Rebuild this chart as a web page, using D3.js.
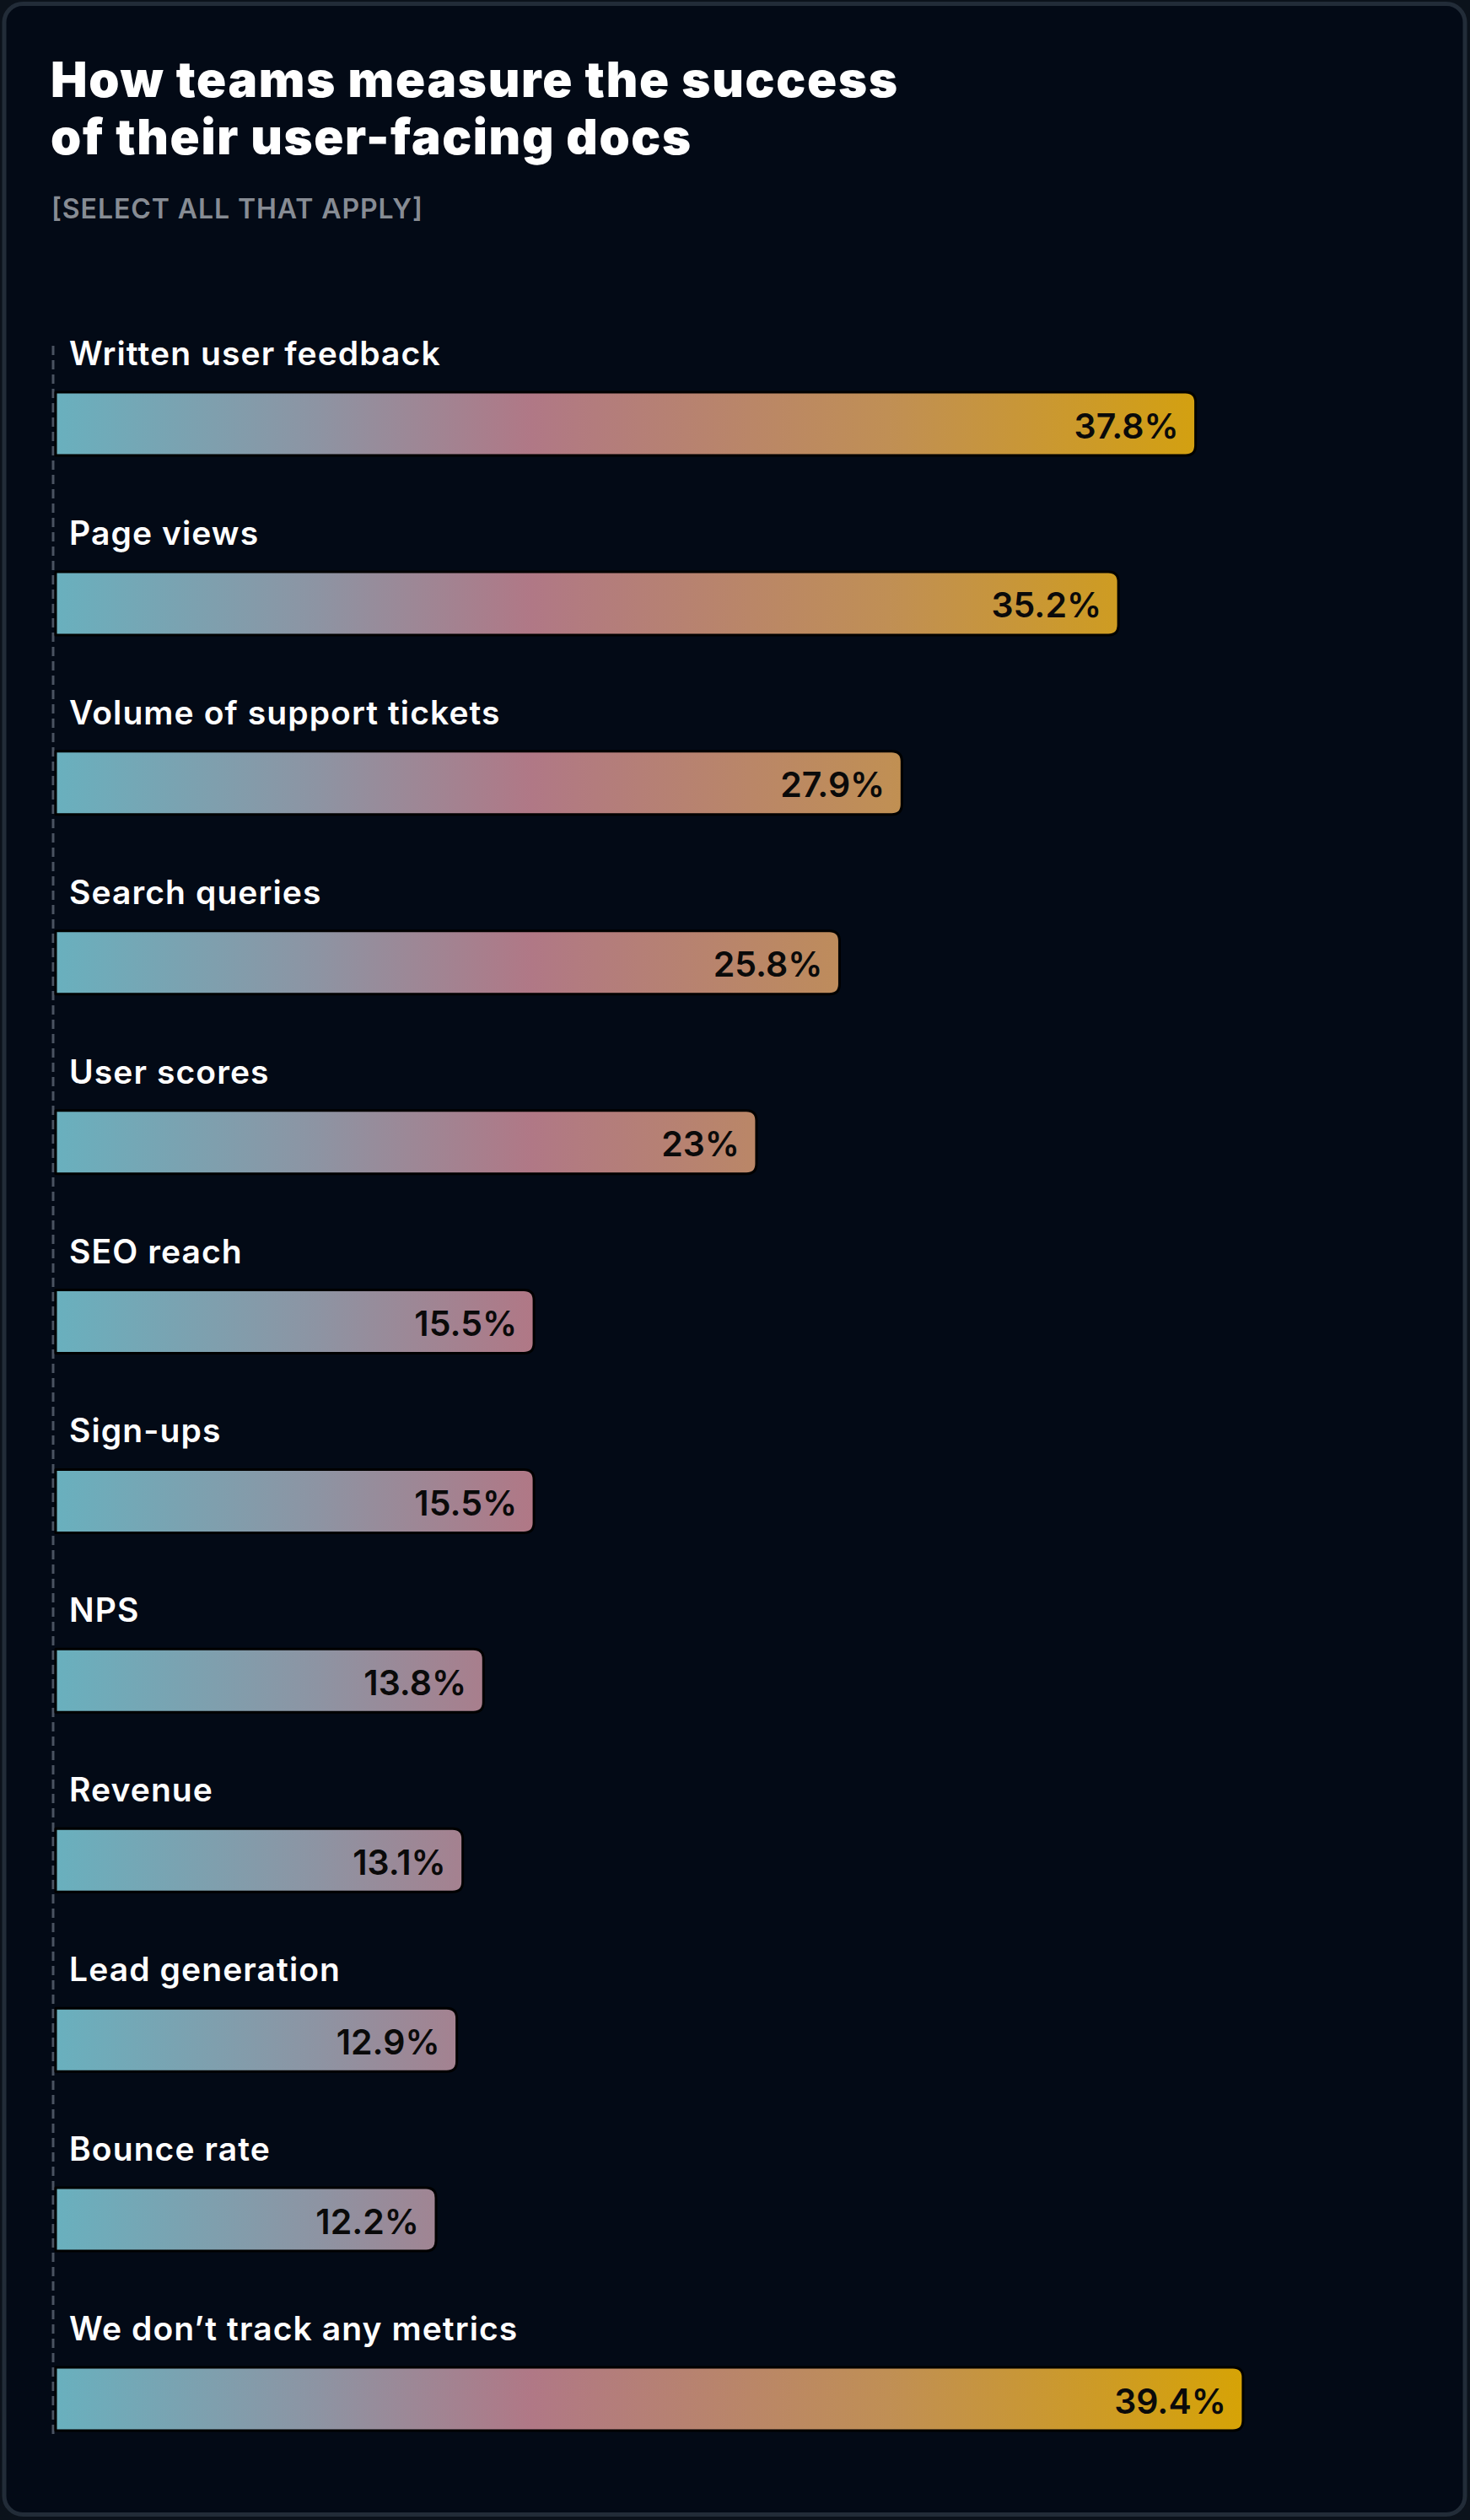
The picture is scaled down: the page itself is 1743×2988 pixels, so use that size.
<!DOCTYPE html>
<html>
<head>
<meta charset="utf-8">
<script src="https://cdn.jsdelivr.net/npm/d3@7"></script>
<style>
  html, body { margin: 0; padding: 0; background: #0b121b; }
  svg { display: block; }
</style>
</head>
<body>
<div id="chart"></div>
<script>
const titleLines = ["How teams measure the success", "of their user-facing docs"];
const subtitle = "[SELECT ALL THAT APPLY]";
const categories = [
  "Written user feedback",
  "Page views",
  "Volume of support tickets",
  "Search queries",
  "User scores",
  "SEO reach",
  "Sign-ups",
  "NPS",
  "Revenue",
  "Lead generation",
  "Bounce rate",
  "We don’t track any metrics"
];
const values = [37.8, 35.2, 27.9, 25.8, 23, 15.5, 15.5, 13.8, 13.1, 12.9, 12.2, 39.4];
const gradientStops = [
  { offset: 0, color: "#69b0be" },
  { offset: 0.22, color: "#8d94a3" },
  { offset: 0.40, color: "#b07886" },
  { offset: 0.70, color: "#c08f55" },
  { offset: 1, color: "#d6a306" }
];

const W = 1743, H = 2988;
const svg = d3.select("#chart").append("svg").attr("width", W).attr("height", H);

// frame
svg.append("rect")
  .attr("x", 5).attr("y", 4.5).attr("width", W - 11).attr("height", H - 11)
  .attr("rx", 22).attr("ry", 22)
  .attr("fill", "#030a16").attr("stroke", "#222c38").attr("stroke-width", 5);

// title
const titleWidths = [1004, 759];
const title = svg.append("g").attr("fill", "#ffffff")
  .style("font-family", "Inter, 'Noto Sans', sans-serif")
  .style("font-weight", 900).style("font-size", "58px");
titleLines.forEach((t, i) => {
  title.append("text").attr("x", 60).attr("y", 115 + i * 68)
    .attr("textLength", titleWidths[i]).attr("lengthAdjust", "spacing")
    .text(t);
});
svg.append("text").attr("x", 61).attr("y", 259)
  .attr("fill", "#878c94")
  .attr("textLength", 440).attr("lengthAdjust", "spacing")
  .style("font-family", "Inter, 'Noto Sans', sans-serif")
  .style("font-weight", 600).style("font-size", "32px")
  .text(subtitle);

// scales
const x0 = 66;
const x = d3.scaleLinear().domain([-0.62, 40]).range([x0, x0 + 1429]);
const y = d3.scalePoint().domain(categories).range([465, 2807]);
const barH = 75, r = 12;

// gradient in user space
const defs = svg.append("defs");
const grad = defs.append("linearGradient").attr("id", "barGrad")
  .attr("gradientUnits", "userSpaceOnUse")
  .attr("x1", x.range()[0]).attr("x2", x(39.4)).attr("y1", 0).attr("y2", 0);
grad.selectAll("stop").data(gradientStops).join("stop")
  .attr("offset", d => d.offset).attr("stop-color", d => d.color);

// dashed axis
svg.append("line")
  .attr("x1", x.range()[0] - 3).attr("x2", x.range()[0] - 3)
  .attr("y1", y(categories[0]) - 55).attr("y2", y(categories[categories.length - 1]) + barH + 9)
  .attr("stroke", "#4a5361").attr("stroke-width", 3).attr("stroke-dasharray", "11,6");

const data = categories.map((c, i) => ({ c, v: values[i] }));

function barPath(d) {
  const xs = x.range()[0], xe = x(d.v), yt = y(d.c), yb = yt + barH;
  return `M${xs},${yt}H${xe - r}Q${xe},${yt} ${xe},${yt + r}V${yb - r}Q${xe},${yb} ${xe - r},${yb}H${xs}Z`;
}

const rows = svg.append("g").selectAll("g").data(data).join("g");

rows.append("path")
  .attr("d", barPath)
  .attr("fill", "url(#barGrad)")
  .attr("stroke", "#000").attr("stroke-width", 3).attr("stroke-linejoin", "round");

rows.append("text")
  .attr("x", x.range()[0] + 16)
  .attr("y", d => y(d.c) - 32)
  .attr("fill", "#ffffff")
  .style("font-family", "Inter, 'Noto Sans', sans-serif")
  .style("font-weight", 600).style("font-size", "39px").style("letter-spacing", "1.1px")
  .text(d => d.c);

rows.append("text")
  .attr("x", d => x(d.v) - 20)
  .attr("y", d => y(d.c) + barH / 2 + 2)
  .attr("text-anchor", "end")
  .attr("dominant-baseline", "central")
  .attr("fill", "#0a0a0a")
  .style("font-family", "Inter, 'Noto Sans', sans-serif")
  .style("font-weight", 600).style("font-size", "41px")
  .text(d => d.v + "%");
</script>
</body>
</html>
